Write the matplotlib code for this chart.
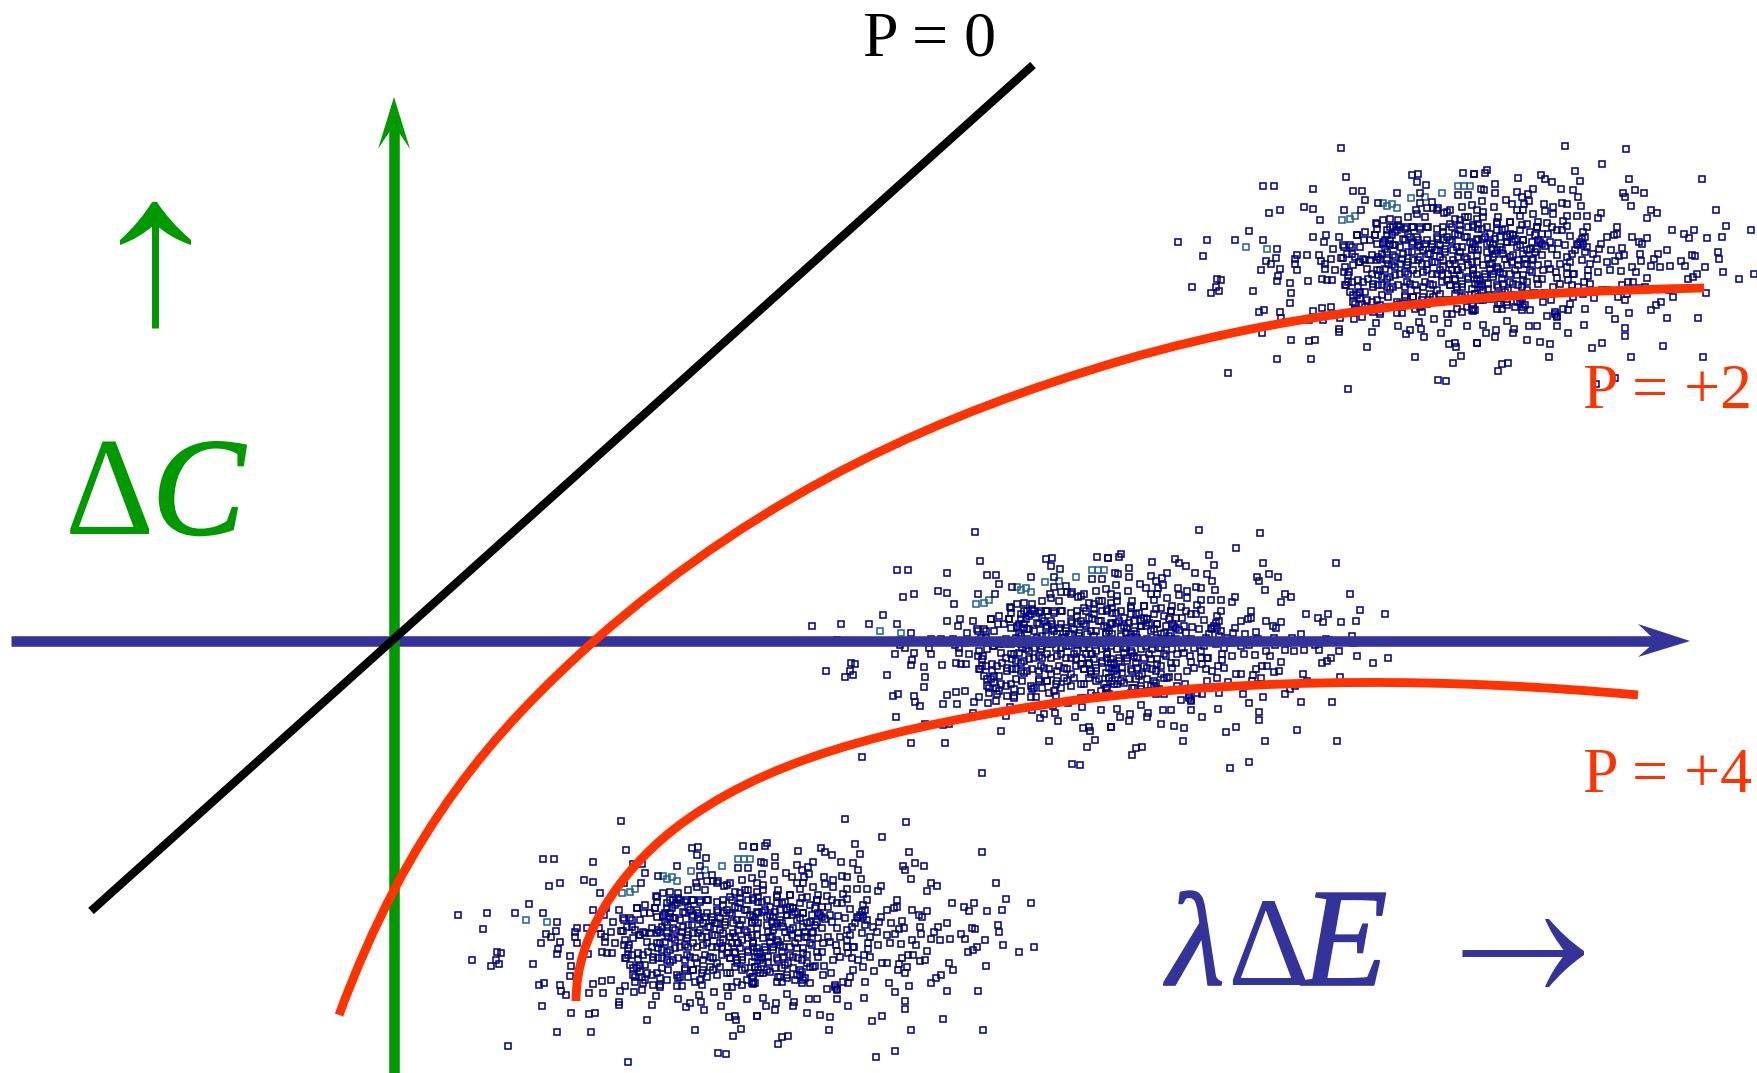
import numpy as np
import matplotlib.pyplot as plt
from matplotlib.patches import PathPatch, Polygon
from matplotlib.path import Path
import matplotlib.patheffects as pe

# --- Colours ---
green = "#009900"
blue = "#333399"
red = "#ff3300"
navy = "#000080"
teal = "#206090"

left_origin = (440, 800)
right_origin = (750, 800)
core_origin = (620, 880)

left_pts = [
    (544,62),(557,150),(460,186),(310,176),(343,176),(326,258),(360,249),(431,241),(460,245),(480,279),
    (603,248),(616,220),(578,192),(607,192),(553,250),(654,228),(712,199),(755,144),(775,140),(772,165),
    (797,174),(908,138),(942,140),(780,199),(816,224),(780,228),(767,248),(802,243),(818,243),(835,244),
    (852,258),(895,204),(925,204),(267,312),(224,338),(308,338),(142,338),(54,346),(351,367),(129,388),
    (347,392),(318,401),(334,411),(303,430),(360,426),(355,446),(351,462),(172,455),(183,460),(96,481),
    (167,481),(178,492),(152,499),(280,493),(389,467),(444,461),(392,497),(389,528),(312,548),(297,556),
    (360,555),(364,573),(377,586),(305,619),(393,638),(447,643),(464,640),(351,695),(452,697),(205,739),
    (565,787),(448,579),(490,579),(459,552),(487,543),(513,539),(540,572),(554,558),(583,575),(605,570),
    (649,587),(537,605),(537,615),(637,615),(620,660),(714,598),(750,608),(737,622),(778,585),(783,607),
    (791,631),(821,575),(863,587),(842,619),(922,598),(950,648),(868,652),(884,648),(888,660),(903,688),
    (880,707),(766,690),(833,760),(858,762),(460,329),(498,325),(536,329),(493,346),(590,325),(612,338),
    (649,288),(650,306),(645,325),(519,367),(553,359),(570,355),(575,380),(548,392),(412,384),(404,397),
    (405,411),(410,428),(440,384),(478,384),(482,401),(513,397),(494,411),(495,426),(525,430),(552,434),
    (567,434),(485,455),(501,460),(516,460),(542,392),(596,404),(615,400),(558,475),(565,466),(595,460),
    (610,465),(578,505),(600,495),(600,515),(585,530),(615,540),(640,470),(635,440),(660,430),(665,450),
    (655,475),(650,518),(680,540),(710,558),(727,558),(765,545),(785,555),(640,555),(660,560),(620,520),
    (700,300),(710,310),(690,350),(680,375),(700,385),(720,360),(745,375),(760,345),(775,355),(790,370),
    (810,380),(825,370),(840,390),(855,375),(870,340),(885,320),(900,310),(915,330),(930,345),(945,360),
    (890,360),(880,400),(895,430),(885,460),(890,490),(905,510),(925,450),(940,430),(955,470),(945,500),
    (735,480),(750,470),(770,490),(790,480),(810,470),(830,490),(820,510),(790,510),(760,510),(735,510),
    (700,480),(690,450),(720,440),(745,440),(770,440),(800,430),(830,440),(850,420),(860,460),(680,480),
    (860,560),(875,560),(890,545),(905,555),(935,550),(945,550),(920,540),(850,340),(830,330),(800,300),
    (780,300),(760,300),(740,300),(720,300),(680,310),(670,350),(665,380),(650,400),(735,340),(705,355),
    (850,300),(870,290),(900,280),(925,270),(950,250),(905,240),(935,235),(870,250),(955,290),(940,300),
    (955,340),(800,340),(660,395),(630,400),(675,340),(695,325),(725,395),(760,400),(785,410),(815,405),
    (845,445),(870,475),(905,470),(920,395),(935,405),(900,375),(875,430),(740,415),(705,420),(685,410),
    (770,330),(745,320),(815,350),(840,355),(720,530),(745,530),(800,530),(830,525),(870,520),(930,520),
]

right_pts = [
    (285,58),(467,65),(396,111),(316,132),(331,161),(477,157),(695,157),(50,128),(45,137),(12,140),
    (144,153),(213,144),(226,156),(247,165),(272,186),(188,186),(76,171),(32,187),(42,190),(75,199),
    (140,195),(155,211),(174,200),(107,220),(127,232),(37,221),(72,241),(178,223),(163,232),(142,250),
    (160,250),(222,230),(250,240),(226,253),(250,262),(275,228),(292,232),(310,188),(324,209),(334,237),
    (292,266),(322,267),(350,268),(385,274),(394,258),(460,198),(464,211),(494,190),(522,199),(482,237),
    (532,273),(544,249),(561,258),(737,249),(767,296),(842,310),(605,308),(641,320),(672,308),(657,334),
    (712,334),(756,329),(442,301),(440,322),(411,331),(431,323),(487,329),(530,333),(508,345),(516,350),
    (393,350),(388,367),(422,368),(457,364),(590,369),(565,380),(743,374),(746,396),(667,385),(675,388),
    (633,403),(645,417),(704,419),(758,434),(851,442),(808,455),(680,442),(670,450),(653,455),(600,417),
    (570,419),(544,417),(553,397),(510,380),(512,403),(463,383),(448,388),(435,403),(420,430),(452,432),
    (498,436),(486,419),(531,452),(525,480),(509,484),(490,464),(475,466),(457,473),(447,493),(470,501),
    (445,510),(465,518),(608,510),(598,489),(708,497),(572,526),(557,534),(544,550),(476,558),(417,548),
    (436,577),(590,573),(685,573),(464,602),(464,628),(343,594),(344,546),(295,617),(261,598),(230,568),
    (262,568),(176,598),(201,598),(111,581),(40,594),(79,610),(48,619),(75,631),(131,606),(129,619),
    (21,648),(172,640),(209,646),(241,651),(238,690),(366,663),(396,648),(578,657),(482,690),(699,690),
    (115,708),(96,711),(83,732),(377,770),(435,754),(371,514),(340,502),(310,510),(300,530),(280,545),
    (295,548),(255,555),(243,520),(218,526),(222,497),(195,497),(343,465),(355,447),(312,442),(290,440),
    (258,434),(260,453),(293,460),(305,473),(250,480),(205,470),(190,500),(180,550),(155,548),(110,535),
    (80,545),(95,545),(10,553),(300,327),(235,322),(215,322),(262,310),(290,297),(350,300),(340,315),
    (330,345),(350,360),(320,350),(210,345),(265,348),(225,358),(180,365),(160,340),(130,325),(110,330),
    (60,320),(70,350),(20,335),(35,305),(10,295),(80,290),(120,285),(170,290),(205,285),(230,287),
    (280,283),(40,270),(85,270),(150,268),(190,260),(305,380),(335,400),(300,405),(260,385),(215,385),
    (185,400),(160,380),(130,385),(100,380),(55,395),(20,385),(5,365),(80,370),(60,410),(90,435),
    (120,440),(160,460),(10,440),(30,460),(40,490),(70,450),(100,470),(115,490),(15,500),(50,510),
    (10,530),(110,525),(150,510),(155,480),(180,430),(220,430),(290,420),(360,410),(380,395),(370,380),
    (355,430),(310,440),(75,335),(125,345),(170,410),(235,410),(335,335),(45,440),(95,505),(140,525),
    (325,355),(340,350),(345,330),(205,340),(215,350),(120,320),(135,335),(110,345),(65,365),(50,350),
    (75,380),(90,360),(105,395),(125,405),(145,415),(165,395),(60,425),(80,420),(100,440),(20,455),
    (35,475),(55,470),(15,470),(25,510),(40,520),(75,505),(85,530),(150,525),(160,540),(255,560),(262,570),
    (200,300),(245,300),(275,310),(195,325),(150,310),(95,310),(45,330),(240,345),(285,355),(315,370),
    (270,410),(240,425),(205,415),(140,445),(85,480),(130,470),(170,490),(215,455),(270,470),(325,480),
    (360,470),(395,490),(410,490),(385,435),(410,405),(345,375),(290,390),(150,355),(195,375),(245,365),
]

# dense middle of the cloud, from a separate crop
core_pts = [
    (110,50),(130,40),(150,35),(175,38),(205,30),(230,20),(255,30),(290,10),(320,15),(345,35),(375,30),(410,35),
    (430,15),(470,45),(510,45),(545,55),(570,75),(590,60),(150,60),(165,75),(140,85),(175,55),(195,65),(215,60),
    (240,65),(265,60),(290,65),(310,75),(335,60),(360,55),(385,60),(415,65),(440,60),(470,70),(495,65),(520,85),
    (550,100),(575,105),(50,85),(75,75),(105,85),(130,105),(150,100),(160,115),(135,125),(110,110),(90,100),(190,95),
    (210,90),(235,100),(255,110),(275,120),(240,120),(215,110),(295,95),(320,90),(335,105),(355,85),(380,90),(400,110),
    (425,95),(450,105),(480,90),(500,105),(530,120),(560,130),(590,125),(10,115),(35,120),(60,120),(20,140),(45,150),
    (70,155),(95,145),(115,150),(140,160),(165,150),(190,140),(215,135),(240,150),(265,140),(290,130),(315,125),(340,130),
    (365,120),(355,150),(345,170),(375,150),(395,130),(415,130),(440,135),(460,150),(485,130),(510,150),(535,160),(555,170),
    (580,155),(15,180),(40,175),(60,165),(80,185),(25,205),(110,190),(135,185),(155,175),(180,170),(205,165),(235,160),
    (260,170),(285,165),(310,160),(330,170),(350,190),(365,180),(385,175),(410,165),(400,190),(430,175),(455,170),(475,185),
    (500,175),(525,190),(550,205),(575,195),(15,235),(35,225),(55,240),(30,255),(85,215),(115,205),(140,215),(165,205),
    (195,195),(220,190),(250,195),(275,200),(300,190),(325,200),(345,215),(360,205),(350,240),(365,240),(385,215),(410,205),
    (435,210),(460,200),(485,215),(510,225),(535,235),(560,225),(590,215),(50,265),(75,255),(40,285),(65,290),(100,240),
    (125,235),(150,245),(125,265),(175,235),(200,225),(225,235),(255,225),(280,235),(305,225),(330,235),(345,260),(375,265),
    (395,245),(420,240),(445,245),(470,235),(495,255),(520,265),(545,275),(570,260),(95,285),(120,295),(145,270),(170,285),
    (195,265),(220,270),(245,280),(270,260),(300,260),(320,280),(395,290),(420,280),(450,275),(480,290),(525,300),(555,295),
    (400,305),(240,300),(175,295),(45,305),(70,310),(120,315),
]

# a few squares in the cloud are drawn lighter/teal
teal_pts = [
    (545,279),(570,275),(586,266),(670,228),(680,238),(695,232),(712,242),(846,199),(752,212),(795,211),
    (893,178),(911,178),(930,178),(322,367),(259,359),
]

# where each copy of the cloud sits relative to the lowest one
cloud_shifts = [(0, 0), (354, -289), (720, -673)]

# --- Lines (figure px) ---
black_x = [91, 1033]
black_y = [911, 65]

# curve control points: start, then three cubic segments
p2_curve = [(339, 1015), (409, 826), (494, 731), (594, 641), (769, 487), (945, 413), (1120, 361),
            (1315, 304), (1510, 292), (1704, 288)]
p4_curve = [(576, 1001), (576, 935), (620, 872), (673, 830), (760, 762), (880, 728), (1076, 700),
            (1266, 677), (1450, 678), (1638, 695)]
curve_codes = [Path.MOVETO] + [Path.CURVE4] * 9

# --- Figure ---
plt.rcParams['font.family'] = ['Liberation Serif', 'DejaVu Sans']
fig = plt.figure(figsize=(17.57, 10.73), dpi=100)
ax = fig.add_axes([0, 0, 1, 1])
ax.set_xlim(0, 1757)
ax.set_ylim(1073, 0)
ax.axis('off')

# clouds go under all the lines
left = np.array(left_pts) / 3 + left_origin
right = np.array(right_pts) / 3 + right_origin
core = np.array(core_pts) / 3 + core_origin
teal_xy = np.array(teal_pts) / 3 + left_origin
cloud = np.vstack([left, right, core])
for dx, dy in cloud_shifts:
    ax.plot(teal_xy[:, 0] + dx, teal_xy[:, 1] + dy, ls='none', marker='s', ms=4.6, mfc='none',
            mec=teal, mew=1.1, zorder=1)
    ax.plot(cloud[:, 0] + dx, cloud[:, 1] + dy, ls='none', marker='s', ms=4.6, mfc='none',
            mec=navy, mew=1.1, zorder=1)

# blue axis with notched head
ax.plot([11, 1656], [641, 641], color=blue, lw=7.6, solid_capstyle='butt', zorder=2)
ax.add_patch(Polygon([(1690, 641), (1638, 624), (1656, 641), (1638, 657)], closed=True, fc=blue, ec='none', zorder=2))

# green axis with notched head
ax.plot([394, 394], [1073, 125], color=green, lw=7.6, solid_capstyle='butt', zorder=3)
ax.add_patch(Polygon([(394, 97), (410, 149), (394, 125), (378, 149)], closed=True, fc=green, ec='none', zorder=3))

ax.plot(black_x, black_y, color='black', lw=6, solid_capstyle='butt', zorder=4)

# red curves
for curve in [p2_curve, p4_curve]:
    ax.add_patch(PathPatch(Path(curve, curve_codes), fc='none', ec=red, lw=6.4, capstyle='butt', zorder=6))

# labels
ax.text(863, 56, "P = 0", fontsize=46, color='black', ha='left', va='baseline', zorder=7)
ax.text(1583, 408, "P = +2", fontsize=46, color=red, ha='left', va='baseline', zorder=7)
ax.text(1583, 792, "P = +4", fontsize=46, color=red, ha='left', va='baseline', zorder=7)

heavy_green = [pe.withStroke(linewidth=1.5, foreground=green)]
heavy_blue = [pe.withStroke(linewidth=1.2, foreground=blue)]
ax.text(65, 534, "\u0394", fontsize=100, color=green, ha='left', va='baseline', zorder=7)
ax.text(152, 534, "C", fontsize=100, color=green, style='italic', ha='left', va='baseline', zorder=7, path_effects=heavy_green)

ax.text(1167, 985, "\u03bb", fontsize=96, color=blue, style='italic', ha='left', va='baseline', zorder=7, path_effects=heavy_blue)
ax.text(1227, 985, "\u0394", fontsize=92, color=blue, ha='left', va='baseline', zorder=7)
ax.text(1302, 985, "E", fontsize=101, color=blue, style='italic', ha='left', va='baseline', zorder=7, path_effects=heavy_blue)

# Symbol style arrows next to the labels
ax.plot([155, 155], [220, 328], color=green, lw=5, solid_capstyle='butt', zorder=7)
ax.add_patch(PathPatch(Path([(152, 202), (157, 202), (170, 222), (191, 240), (191, 245), (170, 238), (155, 224),
                             (140, 238), (120, 245), (120, 240), (140, 222), (152, 202)],
                            [Path.MOVETO, Path.LINETO, Path.CURVE3, Path.CURVE3, Path.LINETO, Path.CURVE3, Path.CURVE3,
                             Path.CURVE3, Path.CURVE3, Path.LINETO, Path.CURVE3, Path.CURVE3]),
                       fc=green, ec='none', zorder=7))

ax.plot([1462, 1570], [953, 953], color=blue, lw=5, solid_capstyle='butt', zorder=7)
ax.add_patch(PathPatch(Path([(1584, 951), (1584, 955), (1565, 968), (1549, 987), (1545, 987), (1552, 970), (1566, 953),
                             (1552, 936), (1545, 919), (1549, 919), (1565, 938), (1584, 951)],
                            [Path.MOVETO, Path.LINETO, Path.CURVE3, Path.CURVE3, Path.LINETO, Path.CURVE3, Path.CURVE3,
                             Path.CURVE3, Path.CURVE3, Path.LINETO, Path.CURVE3, Path.CURVE3]),
                       fc=blue, ec='none', zorder=7))

plt.savefig("out.png", dpi=100)
